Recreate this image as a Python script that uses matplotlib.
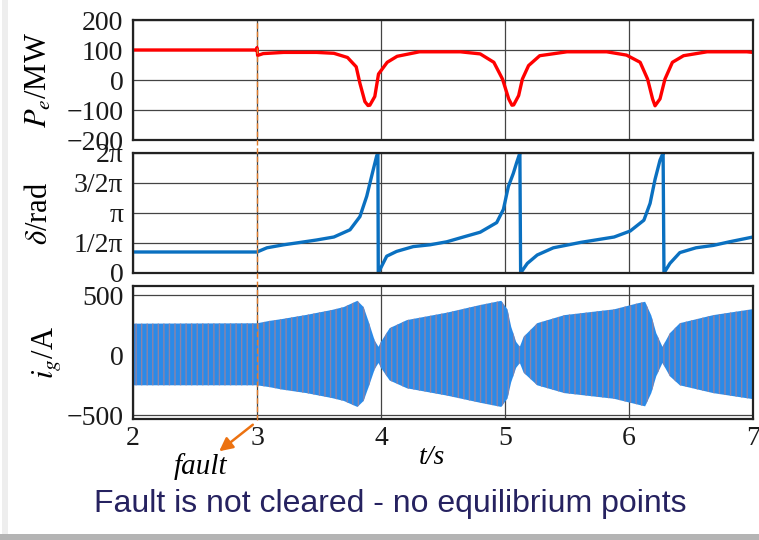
import numpy as np
import matplotlib
matplotlib.use("Agg")
import matplotlib.pyplot as plt
from matplotlib.transforms import blended_transform_factory
from matplotlib.lines import Line2D
from matplotlib.patches import Rectangle, FancyArrowPatch

plt.rcParams['font.family'] = ['Liberation Serif', 'DejaVu Serif']
plt.rcParams['mathtext.fontset'] = 'stix'
plt.rcParams['hatch.linewidth'] = 1.0

# ---- data ----
# electrical power Pe (MW)
t_p = [2.0, 2.995, 3.0, 3.005, 3.05, 3.215, 3.48, 3.62, 3.73, 3.80, 3.83, 3.87, 3.895, 3.91,
       3.95, 3.98, 4.05, 4.13, 4.31, 4.64, 4.80, 4.91, 4.98, 5.03, 5.056, 5.07, 5.11, 5.14,
       5.19, 5.28, 5.50, 5.82, 5.98, 6.09, 6.15, 6.19, 6.21, 6.25, 6.29, 6.35, 6.44, 6.63,
       6.95, 7.0]
p_e = [100, 100, 108, 82, 88, 92, 92, 89, 75, 44, -11, -72, -85, -84,
       -55, 20, 59, 79, 94, 94, 87, 59, 3, -63, -84, -83, -52, 3,
       48, 81, 94, 94, 83, 59, 3, -63, -86, -63, 3, 59, 81, 94,
       94, 92]

# rotor angle delta (in units of pi)
t_d = [2.0, 3.0, 3.08, 3.215, 3.35, 3.48, 3.62, 3.75, 3.83, 3.885, 3.93, 3.965, 3.975, 3.978,
       3.992, 4.046, 4.126, 4.26, 4.395, 4.53, 4.664, 4.80, 4.933, 4.987, 5.027, 5.067, 5.094,
       5.12, 5.126,
       5.18, 5.26, 5.39, 5.61, 5.88, 6.01, 6.12, 6.17, 6.21, 6.25, 6.275, 6.282,
       6.33, 6.41, 6.54, 6.68, 6.81, 7.0]
delta_pi = [0.35, 0.35, 0.42, 0.47, 0.51, 0.55, 0.60, 0.72, 0.94, 1.28, 1.66, 1.95, 2.0, 0.0,
            0.06, 0.28, 0.36, 0.44, 0.47, 0.52, 0.60, 0.68, 0.84, 1.06, 1.44, 1.66, 1.84,
            2.0, 0.0,
            0.16, 0.30, 0.42, 0.51, 0.60, 0.70, 0.88, 1.16, 1.56, 1.88, 2.0, 0.0,
            0.16, 0.34, 0.42, 0.46, 0.52, 0.60]

# grid current envelope (A)
t_i = [2.0, 3.0, 3.1, 3.2, 3.4, 3.6, 3.7, 3.81, 3.86, 3.9, 3.95, 3.98, 4.0, 4.07, 4.21,
       4.53, 4.8, 4.97, 5.02, 5.05, 5.09, 5.12, 5.15, 5.26, 5.48, 5.88, 6.07, 6.13, 6.18,
       6.22, 6.27, 6.33, 6.41, 6.68, 7.0]
i_up = [262, 265, 285, 300, 335, 375, 400, 452, 400, 280, 120, 70, 111, 225, 292,
        353, 417, 452, 380, 236, 111, 70, 153, 266, 333, 381, 431, 444, 330,
        183, 70, 183, 266, 333, 383]
i_lo = [-250, -250, -265, -285, -315, -355, -380, -430, -380, -265, -115, -65, -105, -210, -275,
        -335, -395, -430, -360, -225, -105, -65, -145, -250, -315, -362, -410, -425, -315,
        -175, -65, -175, -250, -315, -365]

t_fault = 3.0
x_ticks = [2, 3, 4, 5, 6, 7]
p_ticks = [-200, -100, 0, 100, 200]
d_ticks_pi = [0, 0.5, 1, 1.5, 2]
d_labels = ['0', '1/2\u03c0', '\u03c0', '3/2\u03c0', '2\u03c0']
i_ticks = [-500, 0, 500]

W, H = 759, 540
fig = plt.figure(figsize=(W / 100, H / 100), dpi=100)

def px_axes(left, top, right, bottom):
    return fig.add_axes([left / W, 1 - bottom / H, (right - left) / W, (bottom - top) / H])

ax1 = px_axes(133, 20, 753, 140)
ax2 = px_axes(133, 153, 753, 273)
ax3 = px_axes(133, 286, 753, 419)

ax1.plot(t_p, p_e, color='#ff0000', lw=2.4)
ax1.set_ylim(-200, 200)
ax1.set_yticks(p_ticks)

ax2.plot(t_d, np.array(delta_pi) * np.pi, color='#0a70c0', lw=2.4)
ax2.set_ylim(0, 2 * np.pi)
ax2.set_yticks(np.array(d_ticks_pi) * np.pi)
ax2.set_yticklabels(d_labels)

ax3.fill_between(t_i, i_lo, i_up, facecolor='#2b8ae8', edgecolor='#8d83a6',
                 hatch='|||', lw=0)
ax3.set_ylim(-530, 575)
ax3.set_yticks(i_ticks)

for ax in (ax1, ax2, ax3):
    ax.set_xlim(2, 7)
    ax.set_xticks(x_ticks)
    ax.grid(True, color='#444444', lw=0.9)
    ax.set_axisbelow(True)
    ax.tick_params(axis='y', length=0, labelsize=20, pad=7, colors='#1a1a1a')
    ax.tick_params(axis='x', length=0, labelsize=20, pad=5, colors='#1a1a1a')
    for s in ax.spines.values():
        s.set_linewidth(1.6)
        s.set_color('#222222')
for ax in (ax1, ax2):
    ax.set_xticklabels([])

ax1.set_ylabel(r'$P_e$/MW', fontsize=22)
ax2.set_ylabel(r'$\delta$/rad', fontsize=22)
ax3.set_ylabel(r'$i_g$/A', fontsize=22)
ax1.yaxis.set_label_coords(-0.127, 0.5)
ax2.yaxis.set_label_coords(-0.127, 0.5)
ax3.yaxis.set_label_coords(-0.113, 0.5)

# fault marker through all panels
tr = blended_transform_factory(ax3.transData, fig.transFigure)
fig.add_artist(Line2D([t_fault, t_fault], [1 - 420 / H, 1 - 20 / H], transform=tr,
                      color='#e07b2a', lw=1.0, ls=(0, (4, 2))))

fig.text(432 / W, 1 - 457 / H, 't/s', fontsize=20, style='italic', ha='center', va='center')
fig.text(200 / W, 1 - 467 / H, 'fault', fontsize=21, style='italic', ha='center', va='center')
fig.add_artist(FancyArrowPatch((255 / W, 1 - 423 / H), (217 / W, 1 - 453 / H),
                               transform=fig.transFigure, arrowstyle='-|>',
                               mutation_scale=20, color='#ec7211', lw=1.8))

fig.text(390 / W, 1 - 504 / H, 'Fault is not cleared - no equilibrium points',
         fontsize=23, color='#262260', family=['Liberation Sans', 'DejaVu Sans'],
         ha='center', va='center')

# faint slide border
fig.add_artist(Rectangle((2 / W, 0), 6 / W, 1, transform=fig.transFigure,
                         facecolor='#eeeeee', edgecolor='none'))
fig.add_artist(Rectangle((0, 0), 1, 6 / H, transform=fig.transFigure,
                         facecolor='#b4b4b4', edgecolor='none'))

fig.savefig('out.png', dpi=100)
